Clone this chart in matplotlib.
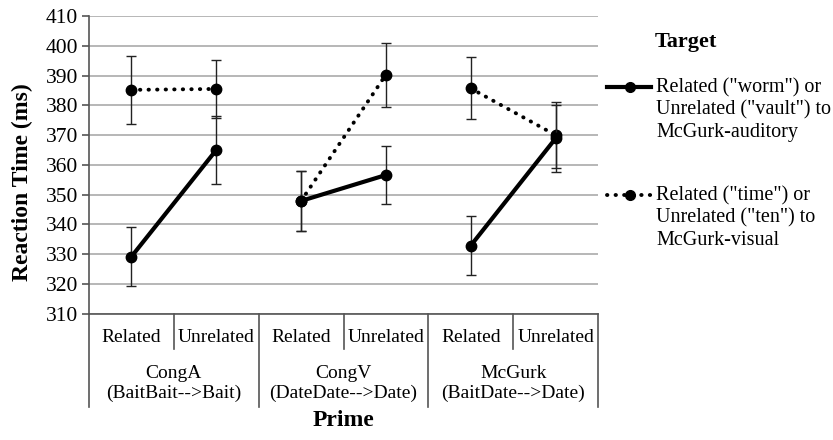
import numpy as np
import matplotlib.pyplot as plt
from matplotlib.lines import Line2D
import matplotlib.transforms as mtransforms

plt.rcParams['font.family'] = ['Liberation Serif', 'DejaVu Serif']

# Prime conditions and prime relatedness
groups = ["CongA\n(BaitBait-->Bait)", "CongV\n(DateDate-->Date)", "McGurk\n(BaitDate-->Date)"]
prime = ["Related", "Unrelated"]

# Target related to McGurk-auditory (solid)
auditory_rt = [329.2, 365.0, 347.9, 356.6, 332.9, 368.9]
auditory_err = [9.8, 11.3, 10.0, 9.7, 9.8, 11.3]

# Target related to McGurk-visual (dotted)
visual_rt = [385.2, 385.5, 347.9, 390.3, 385.7, 370.0]
visual_err = [11.3, 9.6, 10.0, 10.8, 10.4, 11.0]

legend_labels = ['Related ("worm") or\nUnrelated ("vault") to\nMcGurk-auditory',
                 'Related ("time") or\nUnrelated ("ten") to\nMcGurk-visual']

W, H = 833, 440
fig = plt.figure(figsize=(W / 100, H / 100), dpi=100)
ax = fig.add_axes([89 / W, 1 - 313.8 / H, 509 / W, (313.8 - 16) / H])

x = np.arange(6) + 0.5
dotted = (0, (0.1, 2.1))

for g in range(3):
    i = slice(2 * g, 2 * g + 2)
    ax.errorbar(x[i], visual_rt[i], yerr=visual_err[i], color='black', lw=2.8,
                linestyle=dotted, dash_capstyle='round', marker='o', ms=7.5,
                ecolor='#222222', elinewidth=1, capsize=3.5, capthick=1, zorder=3)
    ax.errorbar(x[i], auditory_rt[i], yerr=auditory_err[i], color='black', lw=3,
                marker='o', ms=7.5, ecolor='#222222', elinewidth=1, capsize=3.5,
                capthick=1, zorder=4)

ax.set_xlim(0, 6)
ax.set_ylim(310, 410)
ax.set_yticks(np.arange(310, 411, 10))
ax.yaxis.grid(True, color='#aaaaaa', lw=1.2)
ax.set_axisbelow(True)
ax.set_xticks([])
for s in ['top', 'right']:
    ax.spines[s].set_visible(False)
for s in ['left', 'bottom']:
    ax.spines[s].set_color('#555555')
    ax.spines[s].set_linewidth(1.2)
ax.tick_params(axis='y', labelsize=15.5, length=5, color='#555555', width=1.2, pad=3)

# category axis (two levels)
trans = mtransforms.blended_transform_factory(ax.transData, ax.transAxes)
px = 1 / (313.8 - 16)
for k in range(7):
    bottom = -(407 - 313.8) * px if k % 2 == 0 else -(349 - 313.8) * px
    ax.plot([k, k], [0, bottom], transform=trans, color='#555555', lw=1.2, clip_on=False)
for k in range(6):
    ax.text(x[k], -(337 - 313.8) * px, prime[k % 2], transform=trans,
            ha='center', va='center', fontsize=14)
for g in range(3):
    ax.text(2 * g + 1, -(383.5 - 313.8) * px, groups[g], transform=trans,
            ha='center', va='center', fontsize=14, linespacing=1.2)

fig.text(343 / W, 1 - 420 / H, "Prime", ha='center', va='center',
         fontsize=17, fontweight='bold')
fig.text(22 / W, 1 - 182 / H, "Reaction Time (ms)", ha='center', va='center',
         rotation=90, fontsize=17, fontweight='bold')

# legend
fig.text(655 / W, 1 - 42 / H, "Target", ha='left', va='center',
         fontsize=16, fontweight='bold')
leg_y = [87, 195]
styles = [dict(lw=3, linestyle='-'),
          dict(lw=2.8, linestyle=dotted, dash_capstyle='round')]
for lab, yy, st in zip(legend_labels, leg_y, styles):
    fy = 1 - yy / H
    fig.add_artist(Line2D([607 / W, 651 / W], [fy, fy], color='black', **st))
    fig.add_artist(Line2D([630 / W], [fy], color='black', marker='o', ms=7, lw=0))
    fig.text(656 / W, 1 - (yy + 23) / H, lab, ha='left', va='center',
             fontsize=14.5, linespacing=1.2)

fig.savefig("out.png", dpi=100)
